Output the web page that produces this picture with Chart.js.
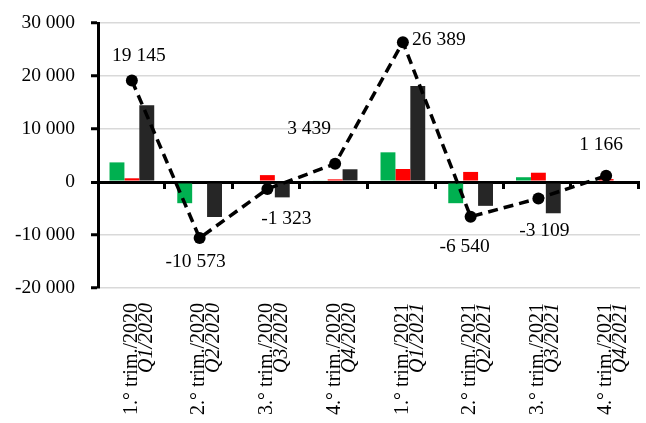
<!DOCTYPE html>
<html>
<head>
<meta charset="utf-8">
<script src="https://cdn.jsdelivr.net/npm/chart.js@4.4.1/dist/chart.umd.min.js"></script>
<style>
  html, body { margin: 0; padding: 0; background: #ffffff; }
  #wrap { width: 646px; height: 423px; position: relative; }
</style>
</head>
<body>
<div id="wrap"><canvas id="c" width="646" height="423"></canvas></div>
<script>
// Quarter labels: Portuguese line and English (italic) line
const quarterPt = ['1.° trim./2020', '2.° trim./2020', '3.° trim./2020', '4.° trim./2020',
                   '1.° trim./2021', '2.° trim./2021', '3.° trim./2021', '4.° trim./2021'];
const quarterEn = ['Q1/2020', 'Q2/2020', 'Q3/2020', 'Q4/2020',
                   'Q1/2021', 'Q2/2021', 'Q3/2021', 'Q4/2021'];

// Component series
const greenValues = [3700, -4000, 0, 300, 5600, -4000, 900, 300];
const redValues   = [700, 0, 1300, 500, 2450, 1900, 1750, 550];
const darkValues  = [14500, -6600, -2900, 2400, 18100, -4500, -5900, 0];

// Total (dashed line with labelled points)
const totalValues = [19145, -10573, -1323, 3439, 26389, -6540, -3109, 1166];

// Y axis ticks
const yTicks = [-20000, -10000, 0, 10000, 20000, 30000];

// Placement of each total label relative to its point (px)
const labelOffsets = [[7, -25], [-4, 24], [19, 30], [-26, -35], [36, -2], [-6, 30], [6, 32], [-5, -31]];

const FONT = '"Liberation Serif", "Times New Roman", serif';

function fmt(v) {
  const s = Math.abs(Math.round(v)).toString().replace(/\B(?=(\d{3})+(?!\d))/g, ' ');
  return (v < 0 ? '-' : '') + s;
}

const decorPlugin = {
  id: 'decor',
  afterDatasetsDraw(chart) {
    const ctx = chart.ctx;
    const x = chart.scales.x, y = chart.scales.y;
    const y0 = y.getPixelForValue(0);
    // small tick marks below the zero axis between categories
    const n = quarterPt.length;
    const step = (x.right - x.left) / n;
    ctx.save();
    ctx.strokeStyle = '#000';
    ctx.lineWidth = 3;
    for (let i = 1; i <= n; i++) {
      const px = Math.round(x.left + i * step) - 1.5;
      ctx.beginPath();
      ctx.moveTo(px, y0);
      ctx.lineTo(px, y0 + 7);
      ctx.stroke();
    }
    ctx.restore();
  },
  afterDraw(chart) {
    const ctx = chart.ctx;
    const x = chart.scales.x;
    const meta = chart.getDatasetMeta(3);
    ctx.save();
    // total value labels
    ctx.fillStyle = '#000';
    ctx.font = '19.5px ' + FONT;
    ctx.textAlign = 'center';
    ctx.textBaseline = 'middle';
    meta.data.forEach((pt, i) => {
      ctx.fillText(fmt(totalValues[i]), pt.x + labelOffsets[i][0], pt.y + labelOffsets[i][1]);
    });
    // rotated two-line category labels
    quarterPt.forEach((lab, i) => {
      const cx = x.getPixelForValue(i) + 7;
      ctx.save();
      ctx.translate(cx, 303);
      ctx.rotate(-Math.PI / 2);
      ctx.textAlign = 'right';
      ctx.textBaseline = 'middle';
      ctx.fillStyle = '#000';
      ctx.font = '20px ' + FONT;
      ctx.fillText(lab, 0, -7.5);
      ctx.font = 'italic 20px ' + FONT;
      ctx.fillText(quarterEn[i], 0, 7.5);
      ctx.restore();
    });
    ctx.restore();
  }
};

new Chart(document.getElementById('c'), {
  type: 'bar',
  data: {
    labels: quarterEn,
    datasets: [
      { data: greenValues, backgroundColor: '#00B050', order: 1 },
      { data: redValues, backgroundColor: '#FF0000', order: 1 },
      { data: darkValues, backgroundColor: '#262626', order: 1 },
      {
        type: 'line', data: totalValues, order: 0,
        borderColor: '#000', borderWidth: 3.5, borderDash: [10, 6],
        pointRadius: 6, pointBackgroundColor: '#000', pointBorderWidth: 0,
        tension: 0, fill: false
      }
    ]
  },
  options: {
    responsive: false,
    animation: false,
    devicePixelRatio: 1,
    layout: { padding: { top: 23, right: 4, bottom: 135, left: 0 } },
    datasets: { bar: { barPercentage: 1, categoryPercentage: 0.66 } },
    plugins: { legend: { display: false }, tooltip: { enabled: false } },
    scales: {
      x: { display: false, offset: true },
      y: {
        min: -20000, max: 30000,
        afterFit(scale) {
          scale.width = 98;
          scale.paddingTop = 0;
          scale.paddingBottom = 0;
        },
        afterBuildTicks(scale) { scale.ticks = yTicks.map(v => ({ value: v })); },
        border: { display: true, color: '#000', width: 3 },
        grid: {
          color: c => (c.tick && c.tick.value === 0 ? '#000' : '#d9d9d9'),
          lineWidth: c => (c.tick && c.tick.value === 0 ? 3 : 1.5),
          tickColor: '#000', tickWidth: 3, tickLength: 7, drawTicks: true
        },
        ticks: {
          color: '#000', padding: 16,
          font: { family: FONT, size: 19.5 },
          callback: v => fmt(v)
        }
      }
    }
  },
  plugins: [decorPlugin]
});
</script>
</body>
</html>
